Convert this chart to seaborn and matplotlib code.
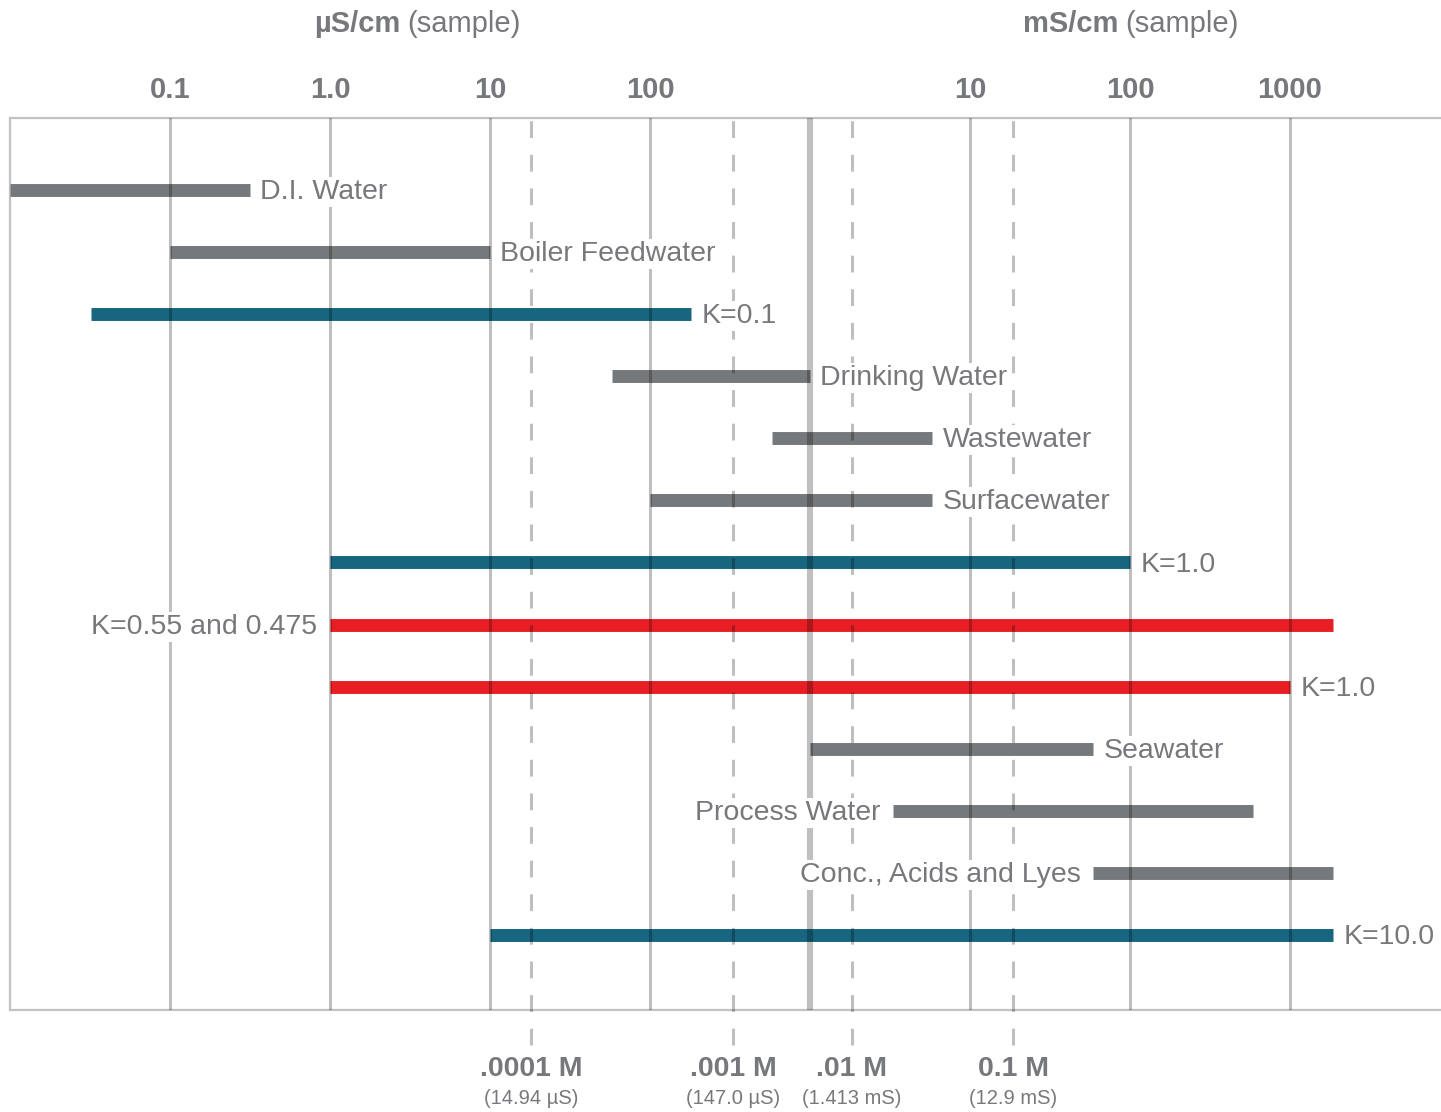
import numpy as np
import pandas as pd
import matplotlib
matplotlib.use("Agg")
import matplotlib.pyplot as plt
import matplotlib.transforms as mtransforms
import seaborn as sns

# ---------------- data (all in µS/cm) ----------------
bar_labels = ["D.I. Water", "Boiler Feedwater", "K=0.1", "Drinking Water", "Wastewater",
              "Surfacewater", "K=1.0", "K=0.55 and 0.475", "K=1.0", "Seawater",
              "Process Water", "Conc., Acids and Lyes", "K=10.0"]
bar_start = [0.01, 0.1, 0.032, 58, 580, 100, 1, 1, 1, 1000, 3300, 59000, 10]
bar_end = [0.316, 10, 180, 1000, 5800, 5800, 1e5, 1.86e6, 1e6, 59000, 5.9e5, 1.86e6, 1.86e6]
bar_kind = ["app", "app", "teal", "app", "app", "app", "teal", "red", "red",
            "app", "app", "app", "teal"]
label_side = ["right", "right", "right", "right", "right", "right", "right", "left",
              "right", "right", "left", "left", "right"]

tick_vals = [0.1, 1, 10, 100, 1e4, 1e5, 1e6]
tick_text = ["0.1", "1.0", "10", "100", "10", "100", "1000"]
unit_break = 1000

conc_pos = [18, 330, 1830, 18600]
conc_names = [".0001 M", ".001 M", ".01 M", "0.1 M"]
conc_subs = ["(14.94 µS)", "(147.0 µS)", "(1.413 mS)", "(12.9 mS)"]

kind_colors = {"app": "#76797c", "teal": "#17657f", "red": "#e81e25"}
text_color = "#76787b"

# ---------------- setup ----------------
sns.set_style("white")
plt.rcParams["font.family"] = ["Liberation Sans", "DejaVu Sans"]

W, H = 1441, 1112
fig = plt.figure(figsize=(W / 100, H / 100), dpi=100)
ax_left, ax_top, ax_bottom = 10, 118, 1010
ax = fig.add_axes([ax_left / W, 1 - ax_bottom / H, 1 - ax_left / W, (ax_bottom - ax_top) / H])

rows = []
for i, (s, e) in enumerate(zip(bar_start, bar_end)):
    rows.append({"bar": f"b{i}", "x": s, "y": i})
    rows.append({"bar": f"b{i}", "x": e, "y": i})
df = pd.DataFrame(rows)
palette = {f"b{i}": kind_colors[k] for i, k in enumerate(bar_kind)}

sns.lineplot(data=df, x="x", y="y", hue="bar", units="bar", estimator=None, sort=False,
             palette=palette, linewidth=9.3, legend=False, ax=ax,
             solid_capstyle="butt", zorder=3)

ax.set_xscale("log")
ax.set_xlim(0.01, 10 ** 6.944)
ax.set_ylim(13.21, -1.16)

# grid lines
for v in tick_vals:
    ax.axvline(v, color="black", alpha=0.25, lw=2.2, zorder=5)
ax.axvline(unit_break, color="black", alpha=0.25, lw=4.4, zorder=5)
for v in conc_pos:
    ax.axvline(v, ymin=-0.039, ymax=1, color="black", alpha=0.25, lw=2.2,
               dashes=(5.5, 5.5), zorder=5, clip_on=False)

# labels beside bars (white background hides grid lines behind text)
box = dict(facecolor="white", edgecolor="none", pad=1.5)
for i, (lab, s, e, side) in enumerate(zip(bar_labels, bar_start, bar_end, label_side)):
    if side == "right":
        ax.annotate(lab, xy=(e, i), xytext=(7.5, -1.5), textcoords="offset points",
                    ha="left", va="center", fontsize=20.5, color=text_color, zorder=6,
                    bbox=box)
    else:
        ax.annotate(lab, xy=(s, i), xytext=(-9, -1.5), textcoords="offset points",
                    ha="right", va="center", fontsize=20.5, color=text_color, zorder=6,
                    bbox=box)

# axes styling
ax.set_xticks(tick_vals)
ax.set_xticklabels(tick_text)
ax.xaxis.set_minor_locator(matplotlib.ticker.NullLocator())
ax.tick_params(axis="x", top=True, bottom=False, labeltop=True, labelbottom=False,
               length=0, pad=10, labelsize=21, labelcolor=text_color)
for t in ax.get_xticklabels():
    t.set_fontweight("bold")
ax.set_yticks([])
ax.set_xlabel("")
ax.set_ylabel("")
for side in ["top", "bottom", "left"]:
    ax.spines[side].set_color("#c2c2c2")
    ax.spines[side].set_linewidth(1.6)
ax.spines["right"].set_visible(False)

# unit titles
fig.text(400 / W, 1 - 24 / H, "µS/cm", ha="right", va="center", fontsize=21,
         fontweight="bold", color=text_color)
fig.text(407 / W, 1 - 24 / H, "(sample)", ha="left", va="center", fontsize=21,
         color=text_color)
fig.text(1118 / W, 1 - 24 / H, "mS/cm", ha="right", va="center", fontsize=21,
         fontweight="bold", color=text_color)
fig.text(1125 / W, 1 - 24 / H, "(sample)", ha="left", va="center", fontsize=21,
         color=text_color)

# concentration labels below
trans = mtransforms.blended_transform_factory(ax.transData, ax.transAxes)
for v, n, s in zip(conc_pos, conc_names, conc_subs):
    ax.text(v, -(1069 - ax_bottom) / (ax_bottom - ax_top), n, transform=trans,
            ha="center", va="center", fontsize=20.5, fontweight="bold", color=text_color)
    ax.text(v, -(1098 - ax_bottom) / (ax_bottom - ax_top), s, transform=trans,
            ha="center", va="center", fontsize=14.5, color=text_color)

fig.savefig("out.png", dpi=100)
